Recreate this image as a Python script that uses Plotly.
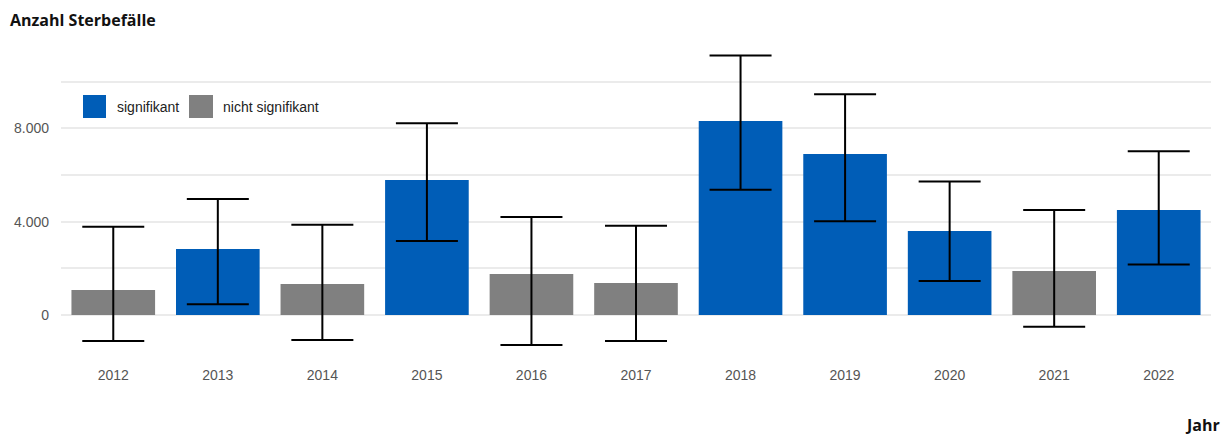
import plotly.graph_objects as go

years = ["2012", "2013", "2014", "2015", "2016", "2017", "2018", "2019", "2020", "2021", "2022"]
values = [1070, 2830, 1330, 5790, 1760, 1370, 8320, 6900, 3600, 1890, 4500]
upper = [3785, 4970, 3870, 8220, 4200, 3830, 11120, 9460, 5720, 4500, 7020]
lower = [-1115, 460, -1070, 3170, -1290, -1115, 5370, 4015, 1460, -500, 2170]
significant = [False, True, False, True, False, False, True, True, True, False, True]

BLUE = "#005DB7"
GRAY = "#808080"

fig = go.Figure()
for flag, color, name in [(True, BLUE, "signifikant"), (False, GRAY, "nicht signifikant")]:
    idx = [i for i, s in enumerate(significant) if s == flag]
    fig.add_trace(go.Bar(
        x=[years[i] for i in idx],
        y=[values[i] for i in idx],
        name=name,
        marker=dict(color=color, line=dict(width=0)),
        error_y=dict(
            type="data", symmetric=False,
            array=[upper[i] - values[i] for i in idx],
            arrayminus=[values[i] - lower[i] for i in idx],
            color="black", thickness=2, width=31,
        ),
        showlegend=False,
    ))

L, R, T, B = 61, 20, 50, 77
W, H = 1231, 437
pw, ph = W - L - R, H - T - B

def px_x(x):
    return (x - L) / pw

def px_y(y):
    return (H - B - y) / ph

shapes = []
annotations = []
for x0, x1, color, label, tx in [(83, 106, BLUE, "signifikant", 115), (189, 213, GRAY, "nicht signifikant", 221)]:
    shapes.append(dict(type="rect", xref="paper", yref="paper",
                       x0=px_x(x0), x1=px_x(x1), y0=px_y(118), y1=px_y(95),
                       fillcolor=color, line=dict(width=0)))
    annotations.append(dict(xref="paper", yref="paper", x=px_x(tx), y=px_y(106.5),
                            text=label, showarrow=False, xanchor="left", yanchor="middle",
                            font=dict(family="Liberation Sans, Arial", size=14, color="#222")))

annotations.append(dict(xref="paper", yref="paper", x=px_x(8), y=px_y(20),
                        text="<b>Anzahl Sterbefälle</b>", showarrow=False,
                        xanchor="left", yanchor="middle",
                        font=dict(family="Open Sans", size=16, color="#111")))
annotations.append(dict(xref="paper", yref="paper", x=px_x(1222), y=px_y(425),
                        text="<b>Jahr</b>", showarrow=False,
                        xanchor="right", yanchor="middle",
                        font=dict(family="Open Sans", size=16, color="#111")))

fig.update_layout(
    width=W, height=H,
    margin=dict(l=L, r=R, t=T, b=B, pad=0),
    paper_bgcolor="white", plot_bgcolor="white",
    barmode="overlay", bargap=0.2,
    separators=",.",
    shapes=shapes, annotations=annotations,
    font=dict(family="Liberation Sans, Arial", size=14, color="#555"),
)
fig.update_xaxes(type="category", categoryorder="array", categoryarray=years,
                 showgrid=False, zeroline=False, showline=False,
                 ticks="", ticklabelstandoff=5, tickfont=dict(size=14, color="#555"))
fig.update_yaxes(range=[-1929, 11361], tickvals=[0, 4000, 8000], tickformat=",d",
                 showgrid=True, gridcolor="#EBEBEB", gridwidth=1.5,
                 minor=dict(dtick=2000, tick0=0, showgrid=True, gridcolor="#EBEBEB", gridwidth=1.5),
                 zeroline=False, showline=False, ticks="",
                 ticklabelstandoff=11, tickfont=dict(size=14, color="#555"))

fig.write_html("out.html")
